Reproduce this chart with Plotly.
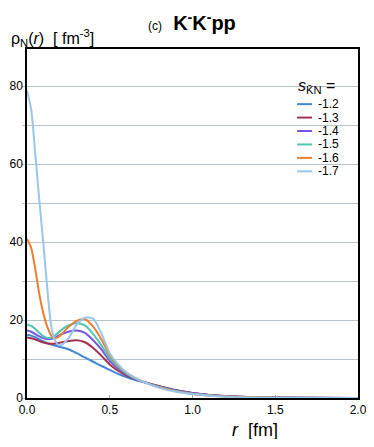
import plotly.graph_objects as go

r = [0.0, 0.025, 0.05, 0.075, 0.1, 0.125, 0.15, 0.175, 0.2, 0.25, 0.3, 0.35, 0.4,
     0.45, 0.5, 0.55, 0.6, 0.65, 0.7, 0.8, 0.9, 1.0, 1.1, 1.2, 1.3, 1.4, 1.5, 1.75, 2.0]

rho_12 = [16.2, 16.0, 15.6, 15.0, 14.5, 14.0, 13.7, 13.4, 13.1, 12.5, 11.5, 10.4, 9.3,
          8.2, 7.2, 6.2, 5.4, 4.7, 4.1, 3.0, 2.0, 1.3, 0.8, 0.5, 0.3, 0.2, 0.12, 0.04, 0.01]
rho_13 = [15.5, 15.3, 15.0, 14.6, 14.2, 14.0, 13.9, 14.0, 14.2, 14.6, 14.8, 14.3, 12.8,
          10.8, 8.6, 7.0, 5.8, 4.9, 4.2, 3.0, 2.0, 1.3, 0.8, 0.5, 0.3, 0.2, 0.12, 0.04, 0.01]
rho_14 = [17.3, 17.0, 16.4, 15.8, 15.3, 15.1, 15.2, 15.6, 16.2, 17.0, 17.3, 16.7, 14.8,
          12.4, 9.5, 7.6, 6.1, 5.0, 4.2, 2.9, 1.9, 1.2, 0.75, 0.45, 0.28, 0.17, 0.1, 0.03, 0.01]
rho_15 = [18.8, 18.5, 17.7, 16.7, 15.8, 15.4, 15.5, 16.2, 17.2, 18.6, 19.2, 18.6, 16.4,
          13.5, 10.2, 8.0, 6.3, 5.1, 4.2, 2.8, 1.8, 1.1, 0.7, 0.4, 0.25, 0.15, 0.09, 0.03, 0.01]
rho_16 = [40.8, 38.5, 33.0, 26.5, 21.5, 18.0, 15.8, 15.3, 16.0, 18.2, 19.8, 20.2, 18.3,
          15.0, 11.0, 8.4, 6.5, 5.2, 4.2, 2.7, 1.7, 1.05, 0.65, 0.4, 0.24, 0.14, 0.08, 0.03, 0.01]
rho_17 = [78.8, 74.0, 62.5, 50.5, 39.0, 27.0, 17.5, 14.3, 13.5, 15.3, 18.8, 20.6, 20.3,
          16.5, 11.5, 8.6, 6.6, 5.2, 4.2, 2.6, 1.6, 1.0, 0.6, 0.35, 0.2, 0.12, 0.07, 0.02, 0.005]

labels = ["-1.2", "-1.3", "-1.4", "-1.5", "-1.6", "-1.7"]
series = [rho_12, rho_13, rho_14, rho_15, rho_16, rho_17]
colors = ["#3f86d6", "#a3324e", "#7656e0", "#4dc8b0", "#ee7d33", "#99c6ec"]

y_ticks = [0, 10, 20, 30, 40, 50, 60, 70, 80]
y_ticktext = ["0", "", "20", "", "40", "", "60", "", "80"]
x_ticks = [0.0, 0.5, 1.0, 1.5, 2.0]

FONT = "Liberation Sans, Arial, sans-serif"

fig = go.Figure()
for lab, vals, col in zip(labels, series, colors):
    fig.add_trace(go.Scatter(
        x=r, y=vals, mode="lines", name=lab,
        line=dict(color=col, width=2, shape="spline", smoothing=0.8),
        showlegend=False,
    ))

# hand-made legend (plotly's own rows are too tall)
leg_top = 0.842
leg_step = 0.0385
for i, (lab, col) in enumerate(zip(labels, colors)):
    yy = leg_top - i * leg_step
    fig.add_shape(type="line", xref="paper", yref="paper",
                  x0=0.816, x1=0.861, y0=yy, y1=yy,
                  line=dict(color=col, width=2))
    fig.add_annotation(xref="paper", yref="paper", x=0.873, y=yy,
                       text=lab, showarrow=False, xanchor="left", yanchor="middle",
                       font=dict(size=12, color="black"))
fig.add_shape(type="rect", xref="paper", yref="paper", x0=0.80, x1=0.97,
              y0=0.62, y1=0.93, fillcolor="white", line_width=0, layer="below")
fig.add_annotation(xref="paper", yref="paper", x=0.812, y=0.893,
                   text="<i>s</i><sub>K\u0304N</sub> =", showarrow=False,
                   xanchor="left", yanchor="middle", font=dict(size=16, color="black"))

fig.add_annotation(xref="paper", yref="paper", x=0.497, y=1.08,
                   text="<span style='font-size:12px'>(c)</span>  <b>K<sup>-</sup>K<sup>-</sup>pp</b>",
                   showarrow=False, xanchor="center", yanchor="middle",
                   font=dict(size=20, color="black"))
fig.add_annotation(xref="paper", yref="paper", x=-0.055, y=1.032,
                   text="\u03c1<sub>N</sub>(<i>r</i>)  [ fm<sup>-3</sup>]",
                   showarrow=False, xanchor="left", yanchor="middle",
                   font=dict(size=16, color="black"))
fig.add_annotation(xref="paper", yref="paper", x=0.689, y=-0.093,
                   text="<i>r</i>  [fm]", showarrow=False,
                   xanchor="center", yanchor="middle",
                   font=dict(size=18, color="black"))

# page body adds an 8px offset; keep the figure inside the visible window
fig.update_layout(
    width=358, height=431,
    margin=dict(l=19, r=8, t=41, b=41),
    paper_bgcolor="white", plot_bgcolor="white",
    font=dict(family=FONT, size=12, color="black"),
    showlegend=False,
)
fig.update_xaxes(
    range=[0, 2], tickvals=x_ticks, ticktext=["0.0", "0.5", "1.0", "1.5", "2.0"],
    showgrid=False, zeroline=False, automargin=False, ticklabeloverflow="allow",
    showline=True, linecolor="black", linewidth=1.5, mirror=True,
    ticks="inside", ticklen=3, tickcolor="#9aa5ad",
)
fig.update_yaxes(
    range=[0, 89.5], tickvals=y_ticks, ticktext=y_ticktext,
    showgrid=True, gridcolor="#b8c4cc", gridwidth=1, zeroline=False, automargin=False,
    showline=True, linecolor="black", linewidth=1.5, mirror=True,
    ticks="outside", ticklen=3, tickcolor="#b8c4cc", ticklabelstandoff=-3,
)

fig.write_html("out.html")
